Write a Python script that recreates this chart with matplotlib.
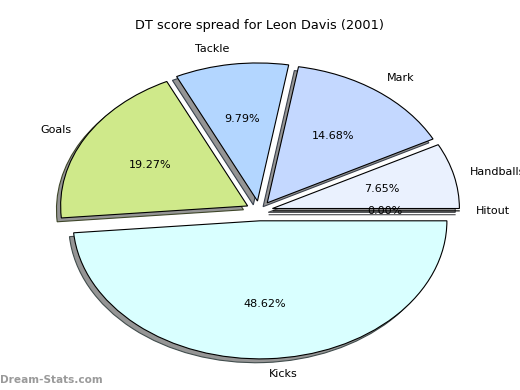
import matplotlib
matplotlib.use("Agg")
import matplotlib.pyplot as plt

# DT score share per stat, counter-clockwise from 0 degrees
labels = ["Handballs", "Mark", "Tackle", "Goals", "Kicks", "Hitout"]
shares = [7.65, 14.68, 9.79, 19.27, 48.62, 0.0]
colors = ["#eaf1fe", "#c4d8ff", "#b3d6ff", "#cfe98a", "#d9ffff", "#f4f8ff"]
explode = [0.072] * len(labels)

fig = plt.figure(figsize=(5.2, 3.9), dpi=100)
ax = fig.add_axes([0.0492, 0.0168, 0.899, 0.885])

wedges, texts, autotexts = ax.pie(
    shares, labels=labels, colors=colors, explode=explode,
    autopct="%1.2f%%", startangle=0, labeldistance=1.085,
    shadow=dict(ox=-0.016, oy=-0.02, facecolor="#959595", alpha=1.0),
    wedgeprops=dict(edgecolor="black", linewidth=0.8),
    textprops=dict(fontsize=8),
)
# labels sit a little further out vertically in the original
for t in texts:
    x, y = t.get_position()
    t.set_position((x, y * 1.025))

ax.set_aspect("auto")
ax.set_xlim(-1.25, 1.25)
ax.set_ylim(-1.25, 1.25)
ax.axis("off")

ax.set_title("DT score spread for Leon Davis (2001)", fontsize=9.3, pad=7)

fig.text(0.0, 0.012, "Dream-Stats.com", fontsize=7.6, color="#9a9a9a",
         fontweight="bold", ha="left", va="bottom")

fig.savefig("out.png", dpi=100)
